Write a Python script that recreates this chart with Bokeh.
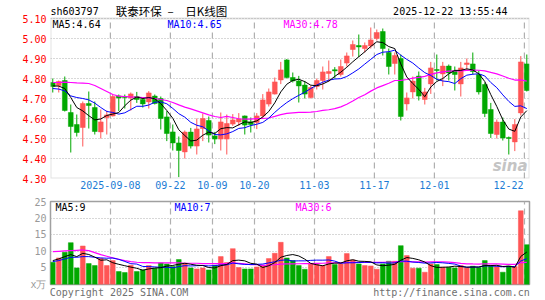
import numpy as np
import pandas as pd
from bokeh.plotting import figure
from bokeh.models import (Range1d, FixedTicker, Label, ColumnDataSource,
                          PrintfTickFormatter, BoxAnnotation)
from bokeh.layouts import column
from bokeh.embed import file_html
from bokeh.resources import INLINE

# ---------------- data ----------------
opens = [4.78, 4.765, 4.79, 4.63, 4.57, 4.555, 4.675, 4.655, 4.533, 4.605,
         4.613, 4.713, 4.71, 4.703, 4.71, 4.695, 4.683, 4.712, 4.70, 4.608,
         4.533, 4.478, 4.433, 4.532, 4.462, 4.55, 4.59, 4.513, 4.497, 4.497,
         4.572, 4.583, 4.613, 4.583, 4.58, 4.613, 4.672, 4.722, 4.793, 4.893,
         4.805, 4.788, 4.767, 4.705, 4.76, 4.79, 4.825, 4.842, 4.82, 4.877,
         4.945, 4.963, 4.95, 4.963, 5.00, 5.035, 4.93, 4.875, 4.90, 4.673,
         4.733, 4.812, 4.695, 4.773, 4.845, 4.823, 4.862, 4.84, 4.773, 4.87,
         4.873, 4.82, 4.77, 4.645, 4.52, 4.582, 4.505, 4.483, 4.628, 4.873]
highs = [4.80, 4.79, 4.81, 4.67, 4.62, 4.685, 4.735, 4.685, 4.645, 4.64,
         4.72, 4.72, 4.72, 4.73, 4.733, 4.705, 4.737, 4.72, 4.71, 4.637,
         4.57, 4.51, 4.54, 4.553, 4.60, 4.625, 4.61, 4.533, 4.63, 4.62,
         4.622, 4.627, 4.615, 4.605, 4.627, 4.722, 4.75, 4.805, 4.883, 4.897,
         4.83, 4.813, 4.788, 4.765, 4.80, 4.86, 4.89, 4.857, 4.895, 4.93,
         4.99, 5.02, 4.98, 5.055, 5.045, 5.05, 4.95, 4.93, 4.92, 4.73,
         4.81, 4.835, 4.753, 4.883, 4.92, 4.883, 4.87, 4.86, 4.883, 4.90,
         4.93, 4.84, 4.78, 4.678, 4.595, 4.605, 4.51, 4.597, 4.912, 4.92]
lows = [4.73, 4.73, 4.635, 4.43, 4.51, 4.46, 4.55, 4.52, 4.50, 4.52,
        4.61, 4.637, 4.65, 4.64, 4.678, 4.655, 4.65, 4.67, 4.545, 4.487,
        4.44, 4.307, 4.40, 4.45, 4.42, 4.487, 4.48, 4.472, 4.44, 4.42,
        4.563, 4.563, 4.52, 4.53, 4.547, 4.597, 4.66, 4.72, 4.772, 4.80,
        4.78, 4.68, 4.70, 4.70, 4.745, 4.745, 4.783, 4.80, 4.81, 4.86,
        4.91, 4.907, 4.93, 4.95, 4.99, 4.915, 4.82, 4.82, 4.59, 4.64,
        4.70, 4.69, 4.67, 4.723, 4.79, 4.762, 4.79, 4.74, 4.71, 4.84,
        4.82, 4.72, 4.607, 4.503, 4.50, 4.49, 4.42, 4.437, 4.615, 4.735]
closes = [4.76, 4.785, 4.64, 4.56, 4.53, 4.675, 4.665, 4.535, 4.583, 4.618,
          4.71, 4.703, 4.705, 4.723, 4.695, 4.673, 4.728, 4.675, 4.60, 4.525,
          4.478, 4.44, 4.532, 4.462, 4.548, 4.60, 4.517, 4.497, 4.583, 4.575,
          4.593, 4.597, 4.567, 4.57, 4.613, 4.693, 4.733, 4.783, 4.843, 4.805,
          4.788, 4.763, 4.722, 4.755, 4.79, 4.833, 4.835, 4.84, 4.86, 4.913,
          4.97, 4.96, 4.965, 4.993, 5.03, 4.95, 4.86, 4.915, 4.61, 4.703,
          4.787, 4.712, 4.733, 4.853, 4.84, 4.862, 4.828, 4.82, 4.853, 4.878,
          4.835, 4.733, 4.625, 4.525, 4.582, 4.503, 4.50, 4.57, 4.883, 4.74]
volumes = [6.7, 8.0, 9.7, 12.6, 5.0, 11.6, 6.3, 5.7, 7.9, 5.7,
           7.2, 3.9, 3.6, 5.8, 3.9, 4.4, 5.7, 4.9, 6.5, 6.2,
           5.4, 7.5, 6.4, 5.0, 4.7, 5.0, 4.4, 5.8, 8.4, 6.6,
           10.8, 5.1, 4.7, 4.7, 5.3, 5.8, 7.8, 9.4, 12.7, 8.0,
           7.2, 5.7, 4.6, 6.2, 6.0, 5.7, 8.4, 6.0, 6.2, 9.3,
           7.4, 6.2, 5.7, 5.6, 4.6, 6.2, 7.0, 7.0, 11.7, 8.7,
           4.9, 4.9, 3.7, 6.2, 6.0, 5.2, 5.2, 5.0, 5.7, 5.0,
           5.5, 5.1, 7.2, 5.7, 5.4, 3.7, 5.6, 5.4, 22.2, 12.0]

# moving-average values at the start of the window (read from the picture,
# they depend on days before the first candle)
ma5_lead = [4.763, 4.762, 4.750, 4.705]
ma10_lead = [4.750, 4.747, 4.738, 4.713, 4.705, 4.700, 4.693, 4.677, 4.655]
ma30_lead = [4.780, 4.780, 4.782, 4.780, 4.778, 4.777, 4.775, 4.765, 4.750, 4.735,
             4.720, 4.712, 4.710, 4.708, 4.707, 4.705, 4.703, 4.700, 4.695, 4.690,
             4.680, 4.668, 4.657, 4.648, 4.638, 4.628, 4.618, 4.610, 4.605]
vma5_lead = [7.2, 7.7, 8.4, 9.0]
vma10_lead = [6.9, 7.2, 7.7, 8.2, 8.2, 8.4, 8.4, 8.2, 8.0]
vma30_lead = [9.9, 10.0, 10.1, 10.2, 10.3, 10.4, 10.2, 9.6, 9.0, 8.5,
              8.0, 7.6, 7.2, 6.9, 6.7, 6.6, 6.6, 6.5, 6.5, 6.5,
              6.5, 6.5, 6.4, 6.4, 6.4, 6.3, 6.3, 6.3, 6.3]

price_ticks = [4.30, 4.40, 4.50, 4.60, 4.70, 4.80, 4.90, 5.00, 5.10]
vol_ticks = [0, 5, 10, 15, 20, 25]
vol_unit = "x万"
date_idx = [10, 20, 27, 34, 44, 54, 64, 79]
date_labels = ["2025-09-08", "09-22", "10-09", "10-20", "11-03", "11-17", "12-01", "12-22"]

stock_code = "sh603797"
title_text = "联泰环保\u2002–\u2002\u2002日K线图"
time_text = "2025-12-22 13:55:44"
ma_price_text = ["MA5:4.64", "MA10:4.65", "MA30:4.78"]
ma_vol_text = ["MA5:9", "MA10:7", "MA30:6"]
footer_text = ["Copyright 2025 SINA.COM", "http://finance.sina.com.cn"]

# ---------------- styles ----------------
RED = "#ff5555"
GREEN = "#00a800"
MA_COLORS = ["#000000", "#0000ff", "#ff00ff"]
MONO = "DejaVu Sans Mono"
FS = "10px"
GRID = "#b0b0b0"
BORDER = "#a0a0a0"
DATE_BLUE = "#1c7cd5"
HEADER_H_PRICE = 5.19          # price value at the top edge of the header strip
LAST_LABEL_SHIFT = -2.65       # last date label sits left of its grid line
FOOTER_POS = [11.03, 66.45]    # centres of the two footer texts (x units)


def moving_avg(vals, n, lead):
    s = pd.Series(vals).rolling(n).mean().tolist()
    return list(lead) + s[len(lead):]


n = len(closes)
df = pd.DataFrame({"x": np.arange(n), "open": opens, "high": highs, "low": lows,
                   "close": closes, "vol": volumes})
up = df["close"] >= df["open"]
df["color"] = np.where(up, RED, GREEN)
df["top"] = np.maximum(df["open"], df["close"])
df["bot"] = np.minimum(df["open"], df["close"])
thin = (df["top"] - df["bot"]) < 0.004
df.loc[thin, "top"] = df.loc[thin, "top"] + 0.002
df.loc[thin, "bot"] = df.loc[thin, "bot"] - 0.002
df["ma5"] = moving_avg(closes, 5, ma5_lead)
df["ma10"] = moving_avg(closes, 10, ma10_lead)
df["ma30"] = moving_avg(closes, 30, ma30_lead)
df["vma5"] = moving_avg(volumes, 5, vma5_lead)
df["vma10"] = moving_avg(volumes, 10, vma10_lead)
df["vma30"] = moving_avg(volumes, 30, vma30_lead)
src = ColumnDataSource(df)

x_range = Range1d(-0.38, 79.45)
grid_x = [i - 0.4 for i in date_idx]
label_x = grid_x[:-1] + [grid_x[-1] + LAST_LABEL_SHIFT]


def style_axis(ax, color):
    ax.axis_line_color = None
    ax.major_tick_line_color = None
    ax.minor_tick_line_color = None
    ax.major_tick_out = 0
    ax.major_tick_in = 0
    ax.minor_tick_out = 0
    ax.minor_tick_in = 0
    ax.major_label_text_font = MONO
    ax.major_label_text_font_size = FS
    ax.major_label_text_color = color


def lab(fig, x, y, text, color="#000000", align="left", font=MONO, size=FS, style="normal"):
    fig.add_layout(Label(x=x, y=y, x_units="screen", y_units="screen", text=text,
                         text_font=font, text_font_size=size, text_color=color,
                         text_align=align, text_baseline="middle", text_font_style=style))


# ---------------- price panel (frame includes the header strip) ----------------
p1 = figure(width=545, height=196, x_range=x_range,
            y_range=Range1d(price_ticks[0], HEADER_H_PRICE),
            min_border_left=50, min_border_right=16, min_border_top=0,
            min_border_bottom=18, toolbar_location=None, output_backend="svg")
p1.outline_line_color = None
p1.background_fill_color = "white"
p1.border_fill_color = "white"
p1.xgrid.visible = False
p1.ygrid.ticker = FixedTicker(ticks=price_ticks)
p1.ygrid.grid_line_color = GRID
p1.ygrid.grid_line_dash = "1 2"

ya = p1.yaxis[0]
ya.ticker = FixedTicker(ticks=price_ticks)
ya.formatter = PrintfTickFormatter(format="%.2f")
style_axis(ya, "#ff0000")
ya.major_label_standoff = 4

xa = p1.xaxis[0]
xa.ticker = FixedTicker(ticks=label_x)
xa.major_label_overrides = {t: lbl for t, lbl in zip(label_x, date_labels)}
style_axis(xa, DATE_BLUE)
xa.major_label_standoff = 2

# vertical dashed grid, only inside the price box
vg = ColumnDataSource(dict(x=grid_x, y0=[price_ticks[0]] * len(grid_x),
                           y1=[price_ticks[-1]] * len(grid_x)))
p1.segment(x0="x", y0="y0", x1="x", y1="y1", source=vg, line_color=GRID,
           line_dash="6 4", line_width=1.2)

p1.segment(x0="x", y0="high", x1="x", y1="low", source=src, line_color="color", line_width=1)
p1.vbar(x="x", top="top", bottom="bot", width=0.8, source=src,
        fill_color="color", line_color="color", line_width=0.5)
p1.line("x", "ma30", source=src, line_color=MA_COLORS[2], line_width=1.2)
p1.line("x", "ma10", source=src, line_color=MA_COLORS[1], line_width=1)
p1.line("x", "ma5", source=src, line_color=MA_COLORS[0], line_width=1)

p1.add_layout(BoxAnnotation(top=price_ticks[-1], bottom=price_ticks[0], fill_color=None,
                            line_color=BORDER, line_width=2))

# texts (positions in px from the frame's bottom-left corner)
lab(p1, 0, 167, stock_code)
lab(p1, 121, 167.5, title_text, align="center", font="Noto Sans CJK SC", size="11.5px")
lab(p1, 457, 167, time_text, align="right")
for xpos, txt, col in zip([2, 117, 233], ma_price_text, MA_COLORS):
    lab(p1, xpos, 154, txt, color=col)
lab(p1, 477, 13, "sina", color="#c4c4c4", align="right", font="DejaVu Sans",
    size="15px", style="bold italic")

# ---------------- volume panel ----------------
p2 = figure(width=545, height=104, x_range=x_range, y_range=Range1d(0, 25),
            min_border_left=50, min_border_right=16, min_border_top=5,
            min_border_bottom=16, toolbar_location=None, output_backend="svg")
p2.outline_line_color = BORDER
p2.outline_line_width = 1.5
p2.background_fill_color = "white"
p2.border_fill_color = "white"
p2.xgrid.ticker = FixedTicker(ticks=grid_x)
p2.xgrid.grid_line_color = GRID
p2.xgrid.grid_line_dash = "6 4"
p2.xgrid.grid_line_width = 1.2
p2.ygrid.ticker = FixedTicker(ticks=vol_ticks)
p2.ygrid.grid_line_color = GRID
p2.ygrid.grid_line_dash = "1 2"

va = p2.yaxis[0]
va.ticker = FixedTicker(ticks=vol_ticks)
va.major_label_overrides = {vol_ticks[0]: vol_unit}
style_axis(va, "#999999")
va.major_label_standoff = 4

fa = p2.xaxis[0]
fa.ticker = FixedTicker(ticks=FOOTER_POS)
fa.major_label_overrides = {t: s for t, s in zip(FOOTER_POS, footer_text)}
style_axis(fa, "#707070")
fa.major_label_standoff = 2

p2.vbar(x="x", top="vol", bottom=0, width=0.8, source=src,
        fill_color="color", line_color="color", line_width=0.5)
p2.line("x", "vma30", source=src, line_color=MA_COLORS[2], line_width=1.2)
p2.line("x", "vma10", source=src, line_color=MA_COLORS[1], line_width=1)
p2.line("x", "vma5", source=src, line_color=MA_COLORS[0], line_width=1)

for xpos, txt, col in zip([5, 124, 245], ma_vol_text, MA_COLORS):
    lab(p2, xpos, 77, txt, color=col)

layout = column(p1, p2, spacing=0)
open("out.html", "w").write(file_html(layout, INLINE))
